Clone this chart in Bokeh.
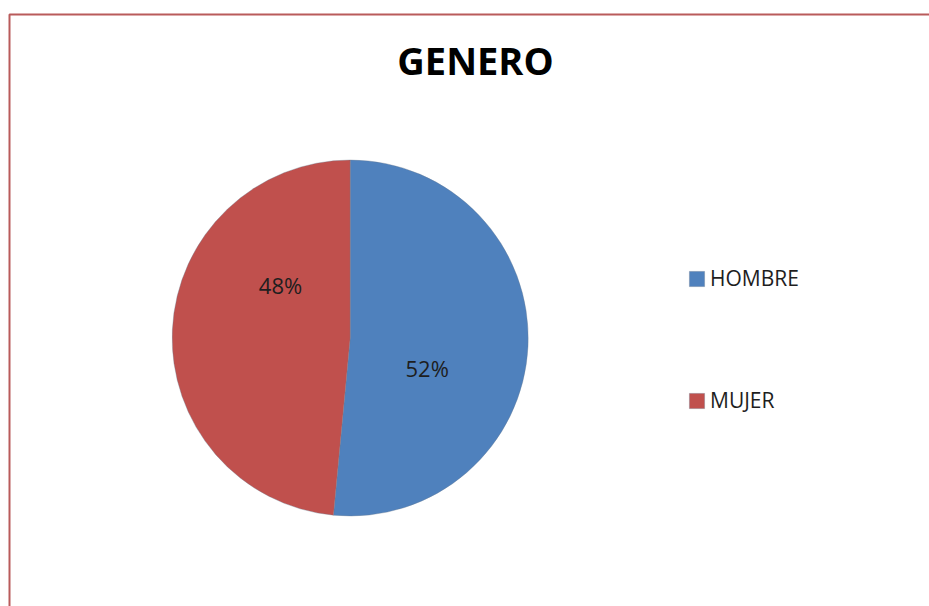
import math
from bokeh.plotting import figure
from bokeh.models import (ColumnDataSource, Range1d, Legend, LegendItem,
                          BoxAnnotation, Label)
from bokeh.core.properties import value
from bokeh.embed import file_html
from bokeh.resources import INLINE

# ---- data ----
categories = ["HOMBRE", "MUJER"]
percentages = [51.5, 48.5]
colors = ["#4f81bd", "#c0504d"]
title_text = "GENERO"

# ---- layout (pixels in the figure frame) ----
W, H = 929, 606
PX = 178.0              # pie radius in pixels = 1 data unit
CX, CY = 349.7, 337.5   # pie centre in frame pixels (from top-left)
label_px = [(426.7, 367.0), (280.0, 284.0)]  # data-label centres (frame px)

def to_data(x, y):
    return (x - CX) / PX, (CY - y) / PX

# ---- wedge angles (clockwise from 12 o'clock) ----
total = float(sum(percentages))
starts, ends = [], []
cum = 0.0
for v in percentages:
    ends.append(math.pi / 2 - 2 * math.pi * cum / total)
    cum += v
    starts.append(math.pi / 2 - 2 * math.pi * cum / total)

src = ColumnDataSource(dict(cat=categories, val=percentages, start=starts,
                            end=ends, color=colors))

p = figure(width=W, height=H, output_backend="svg", toolbar_location=None,
           x_axis_type=None, y_axis_type=None,
           x_range=Range1d(-CX / PX, (W - CX) / PX),
           y_range=Range1d(-(H - CY) / PX, CY / PX),
           min_border=0, outline_line_color=None,
           background_fill_color="white", border_fill_color="white")
p.grid.visible = False

wedges = p.wedge(x=0, y=0, radius=1, start_angle="start", end_angle="end",
                 fill_color="color", line_color="#6b7a8f", line_alpha=0.35,
                 line_width=1, source=src)

# data labels
lx, ly = [], []
for (a, b) in label_px:
    dx, dy = to_data(a, b)
    lx.append(dx)
    ly.append(dy)
lab_src = ColumnDataSource(dict(x=lx, y=ly,
                                text=[f"{v:.0f}%" for v in percentages]))
p.text(x="x", y="y", text="text", source=lab_src,
       text_font=value("Open Sans"), text_font_size="22px",
       text_color="#1e1e1e", text_align="center", text_baseline="middle")

# title
tx, ty = to_data(475, 59)
p.add_layout(Label(x=tx, y=ty, text=title_text, text_font="Open Sans",
                   text_font_size="38px", text_font_style="bold",
                   text_color="black", text_align="center",
                   text_baseline="middle"))

# chart border (top and left visible, rest runs off the page)
bl, bt = to_data(9.0, 14.0)
p.add_layout(BoxAnnotation(left=bl, top=bt, right=(W - CX) / PX + 1,
                           bottom=-(H - CY) / PX - 1,
                           fill_color=None, line_color="#b95b5b",
                           line_alpha=1.0, line_width=2))

# legend
items = [LegendItem(label=c, renderers=[wedges], index=i)
         for i, c in enumerate(categories)]
legend = Legend(items=items, location=(687, 191), padding=0, margin=0,
                spacing=92, glyph_width=19, glyph_height=19, label_height=30,
                label_standoff=4, label_text_font="Open Sans",
                label_text_font_size="21px", label_text_color="#1e1e1e",
                border_line_color=None, background_fill_alpha=0)
p.add_layout(legend)

open("out.html", "w").write(file_html(p, INLINE))
